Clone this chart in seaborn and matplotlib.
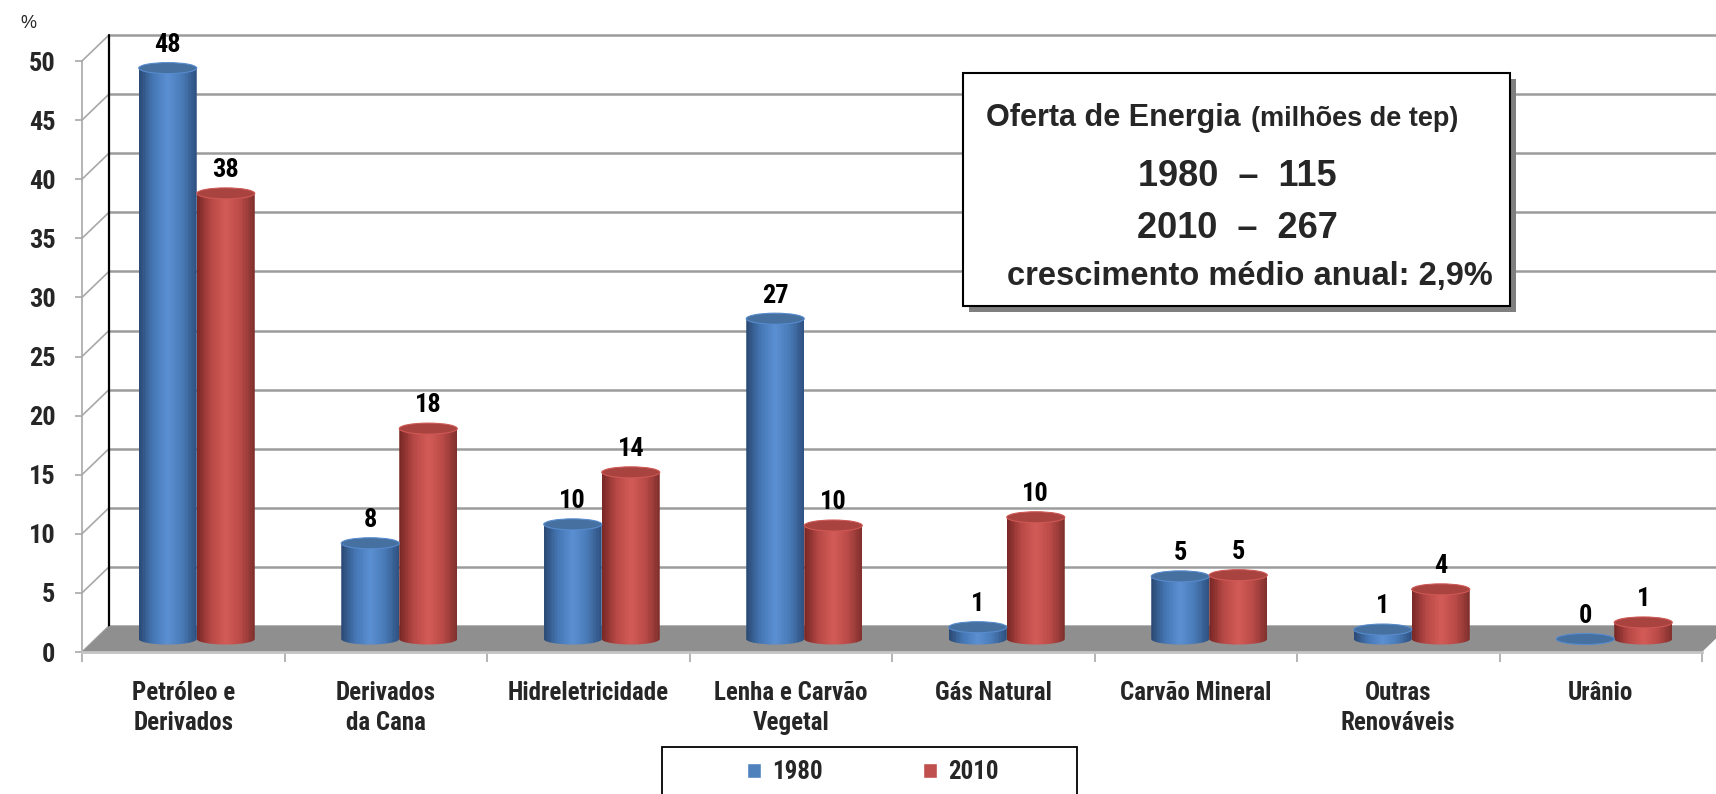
import numpy as np
import pandas as pd
import matplotlib
matplotlib.use("Agg")
import matplotlib.pyplot as plt
import seaborn as sns
from matplotlib import font_manager
from matplotlib.transforms import Affine2D
from matplotlib.patches import Rectangle, Ellipse, PathPatch, Polygon
from matplotlib.path import Path
from matplotlib.collections import PatchCollection
from matplotlib.colors import LinearSegmentedColormap

# ---------------- data ----------------
categories = ["Petróleo e\nDerivados", "Derivados\nda Cana", "Hidreletricidade",
              "Lenha e Carvão\nVegetal", "Gás Natural", "Carvão Mineral",
              "Outras\nRenováveis", "Urânio"]
years = ["1980", "2010"]
v1980 = [48.3, 8.1, 9.7, 27.1, 1.0, 5.3, 0.8, 0.0]
v2010 = [37.7, 17.8, 14.1, 9.6, 10.3, 5.4, 4.2, 1.4]
yticks = list(range(0, 55, 5))

box_title = "Oferta de Energia"
box_unit = "(milhões de tep)"
box_lines = ["1980  –  115", "2010  –  267"]
box_growth = "crescimento médio anual: 2,9%"

# ---------------- style ----------------
sns.set_theme(style="white")
available = {f.name for f in font_manager.fontManager.ttflist}
narrow_pick = None
for cand in ["Liberation Sans Narrow", "Arial Narrow", "Roboto Condensed",
             "Open Sans Condensed", "DejaVu Sans Condensed"]:
    if cand in available:
        narrow_pick = cand
        break
WIDE = ['Liberation Sans', 'DejaVu Sans']
NARROW = ([narrow_pick] if narrow_pick else []) + WIDE
plt.rcParams['font.family'] = NARROW
NF = 1.0 if narrow_pick else 0.88

BLUE = "#4F81BD"
RED = "#C0504D"
cmaps = [
    LinearSegmentedColormap.from_list("b", ["#2b4b76", "#4678b6", "#5a8fd2", "#4a7bb8", "#2f5282"]),
    LinearSegmentedColormap.from_list("r", ["#7a2826", "#b84946", "#d35b57", "#bb4b48", "#82302d"]),
]
caps = ["#45709f", "#a8433f"]

W, H = 1716, 794
fig = plt.figure(figsize=(W / 100, H / 100), dpi=100)
fig.patch.set_facecolor("white")
ax = fig.add_axes([82 / W, (H - 652) / H, 1620 / W, 591 / H])
ax.set_facecolor("none")

df = pd.DataFrame({
    "cat": categories * 2,
    "val": v1980 + v2010,
    "ano": [years[0]] * len(categories) + [years[1]] * len(categories),
})
sns.barplot(data=df, x="cat", y="val", hue="ano", palette=[BLUE, RED],
            saturation=1, width=0.573, ax=ax, zorder=3)
handles, labels = ax.get_legend_handles_labels()
if ax.get_legend() is not None:
    ax.get_legend().remove()

ax.set_xlim(-0.5, len(categories) - 0.5)
ax.set_ylim(0, 50)

# depth offsets in data units (px converted)
px_x = 1620 / len(categories)
px_y = 591 / 50
DX = 27 / px_x
DY = 26 / px_y
E = 5.5 / px_y   # ellipse semi-height

# ---------------- back wall, side wall, floor ----------------
x_left = -0.5
x_right = len(categories) - 0.5
for v in yticks:
    ax.plot([x_left + DX, x_right + DX + 0.5], [v + DY, v + DY], color="#9c9c9c",
            lw=1.8, clip_on=False, zorder=0.5, solid_capstyle="butt")
    ax.plot([x_left, x_left + DX], [v, v + DY], color="#a8a8a8", lw=1.2,
            clip_on=False, zorder=0.5)
ax.plot([x_left + DX, x_left + DX], [DY, 50 + DY], color="black", lw=1.6,
        clip_on=False, zorder=0.6)

floor = Polygon([[x_left, 0], [x_right, 0], [x_right + DX, DY], [x_left + DX, DY]],
                closed=True, facecolor="#8f8f8f", edgecolor="none", clip_on=False, zorder=1)
ax.add_patch(floor)

# ---------------- cylinders ----------------
mid = Affine2D().translate(DX / 2, DY / 2) + ax.transData
t = np.linspace(0, np.pi, 40)
for hi, cont in enumerate(ax.containers):
    for bar in cont:
        x0, w, h = bar.get_x(), bar.get_width(), bar.get_height()
        bar.set_transform(mid)
        bar.set_clip_on(False)
        bar.set_visible(False)
        xc = x0 + w / 2
        arc = np.column_stack([xc - (w / 2) * np.cos(t), -E * np.sin(t)])
        verts = np.vstack([[[x0, h]], arc, [[x0 + w, h]], [[x0, h]]])
        body = PathPatch(Path(verts, closed=True), facecolor="none", edgecolor="none",
                         transform=mid, clip_on=False, zorder=3)
        ax.add_patch(body)
        n = 40
        strips = [Rectangle((x0 + i * w / n, -E), w / n * 1.05, h + E) for i in range(n)]
        pc = PatchCollection(strips, transform=mid, zorder=3, linewidth=0,
                             facecolors=[cmaps[hi](i / (n - 1)) for i in range(n)])
        pc.set_clip_path(body)
        ax.add_collection(pc)
        top = Ellipse((xc, h), w, 2 * E, transform=mid, facecolor=caps[hi],
                      edgecolor=cmaps[hi](0.55), lw=0.8, clip_on=False, zorder=3.5)
        ax.add_patch(top)
        ax.annotate(f"{h:.0f}", (xc, h), xycoords=mid, xytext=(0, 8),
                    textcoords="offset points", ha="center", va="bottom",
                    fontsize=19 * NF, fontweight="bold", color="black", zorder=5)

# ---------------- axes ----------------
for s in ["top", "right"]:
    ax.spines[s].set_visible(False)
ax.spines["left"].set_color("#a8a8a8")
ax.spines["left"].set_linewidth(1.2)
ax.spines["bottom"].set_color("#c4c4c4")
ax.spines["bottom"].set_linewidth(2)
ax.set_yticks(yticks)
ax.set_yticklabels([str(v) for v in yticks], fontsize=19 * NF, fontweight="bold")
ax.tick_params(axis="y", length=5, width=1.2, color="#a8a8a8", pad=14, left=True)
ax.set_xticks(range(len(categories)))
ax.set_xticklabels(categories, fontsize=18 * NF, fontweight="bold", linespacing=1.3)
ax.set_xticks(np.arange(-0.5, len(categories), 1), minor=True)
ax.tick_params(axis="x", which="major", length=0, pad=21)
ax.tick_params(axis="x", which="minor", length=7, width=1.2, color="#a8a8a8", bottom=True)
ax.set_xlabel("")
ax.set_ylabel("")
ax.grid(False)

fig.text(20 / W, 1 - 24 / H, "%", fontsize=13, ha="left", va="center", family=WIDE)

# ---------------- info box ----------------
bx0, by0, bx1, by1 = 963, 73, 1510, 306
fig.patches.append(Rectangle(((bx0 + 6) / W, 1 - (by1 + 6) / H), (bx1 - bx0) / W, (by1 - by0) / H,
                             transform=fig.transFigure, facecolor="#7f7f7f", edgecolor="none", zorder=8))
fig.patches.append(Rectangle((bx0 / W, 1 - by1 / H), (bx1 - bx0) / W, (by1 - by0) / H,
                             transform=fig.transFigure, facecolor="white", edgecolor="black",
                             lw=1.5, zorder=9))
fig.text(1241 / W, 1 - 126 / H, box_title, fontsize=22, fontweight="bold", family=WIDE,
         ha="right", va="baseline", zorder=10)
fig.text(1251 / W, 1 - 126 / H, box_unit, fontsize=19.5, fontweight="bold", family=WIDE,
         ha="left", va="baseline", zorder=10)
fig.text(1237 / W, 1 - 177 / H, box_lines[0], fontsize=26, fontweight="bold", family=WIDE,
         ha="center", va="center", zorder=10)
fig.text(1237 / W, 1 - 229 / H, box_lines[1], fontsize=26, fontweight="bold", family=WIDE,
         ha="center", va="center", zorder=10)
fig.text(1250 / W, 1 - 276 / H, box_growth, fontsize=23.5, fontweight="bold", family=WIDE,
         ha="center", va="center", zorder=10)

# ---------------- legend ----------------
fig.patches.append(Rectangle((662 / W, -0.05), (1077 - 662) / W, (1 - 747 / H) + 0.05,
                             transform=fig.transFigure, facecolor="white", edgecolor="black",
                             lw=1.3, zorder=8))
leg = fig.legend(handles, labels, loc="center", bbox_to_anchor=(873 / W, 1 - 772 / H),
                 ncol=2, frameon=False, handlelength=0.55, handleheight=0.55,
                 handletextpad=0.45, columnspacing=4.0,
                 prop={"weight": "bold", "size": 18 * NF})
leg.set_zorder(10)

fig.savefig("out.png", dpi=100)
